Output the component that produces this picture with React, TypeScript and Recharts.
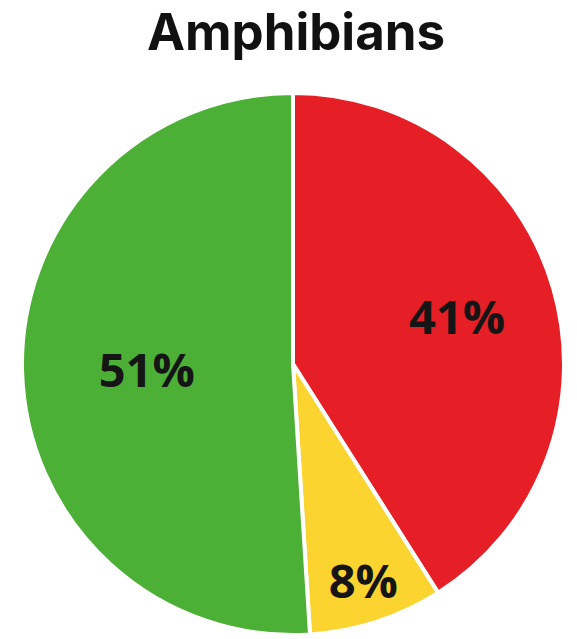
import React from "react";
import { PieChart, Pie, Cell } from "recharts";

// Share of amphibian species by category
const categories = ["Threatened", "Near threatened", "Least concern"];
const shares = [41, 8, 51];
const sliceColors = ["#e61f26", "#fcd42f", "#4caf36"];
// Radial placement of each percentage label, as a fraction of the outer radius
const labelRadiusFractions = [0.63, 0.84, 0.54];

const data = categories.map((name, i) => ({ name, value: shares[i] }));

const RAD = Math.PI / 180;

const renderLabel = (props: any) => {
  const { cx, cy, midAngle, outerRadius, index, value } = props;
  const r = outerRadius * labelRadiusFractions[index];
  const x = cx + r * Math.cos(-midAngle * RAD);
  const y = cy + r * Math.sin(-midAngle * RAD);
  return (
    <text
      x={x}
      y={y}
      textAnchor="middle"
      dominantBaseline="central"
      fill="#151515"
      fontFamily="'Open Sans', sans-serif"
      fontWeight={700}
      fontSize={47}
    >
      {`${value}%`}
    </text>
  );
};

export default function App() {
  return (
    <div
      style={{
        position: "absolute",
        left: 0,
        top: 0,
        width: 577,
        height: 639,
        background: "#ffffff",
        overflow: "hidden",
      }}
    >
      <div
        style={{
          position: "absolute",
          left: 0,
          top: 1,
          width: 577,
          boxSizing: "border-box",
          paddingLeft: 15,
          textAlign: "center",
          fontFamily: "Inter, sans-serif",
          fontWeight: 700,
          fontSize: 51,
          lineHeight: "62px",
          color: "#111111",
          whiteSpace: "nowrap",
        }}
      >
        Amphibians
      </div>
      <PieChart
        width={577}
        height={639}
        margin={{ top: 0, right: 0, bottom: 0, left: 0 }}
      >
        <Pie
          data={data}
          dataKey="value"
          nameKey="name"
          cx={293}
          cy={364}
          outerRadius={271}
          innerRadius={0}
          startAngle={90}
          endAngle={-270}
          stroke="#ffffff"
          strokeWidth={4}
          label={renderLabel}
          labelLine={false}
          isAnimationActive={false}
        >
          {data.map((d, i) => (
            <Cell key={d.name} fill={sliceColors[i]} />
          ))}
        </Pie>
      </PieChart>
    </div>
  );
}
